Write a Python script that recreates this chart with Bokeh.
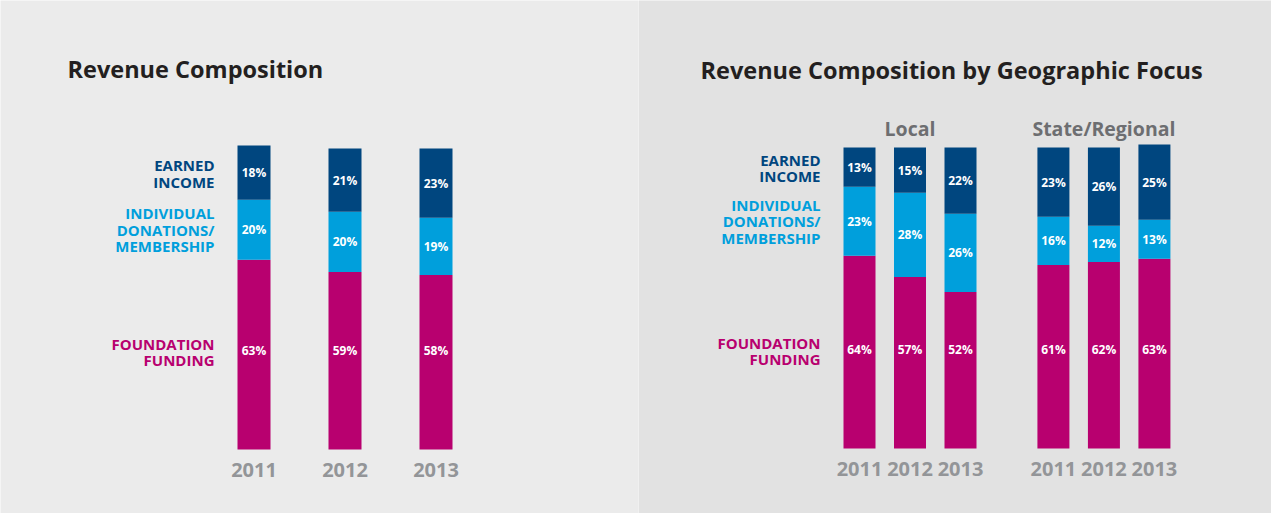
from bokeh.plotting import figure
from bokeh.models import ColumnDataSource, Range1d, Label
from bokeh.layouts import row
from bokeh.core.properties import value
from bokeh.embed import file_html
from bokeh.resources import INLINE

# ---------------- data ----------------
years = ["2011", "2012", "2013"]
series_labels = ["FOUNDATION\nFUNDING", "INDIVIDUAL\nDONATIONS/\nMEMBERSHIP", "EARNED\nINCOME"]

all_foundation = [63, 59, 58]
all_individual = [20, 20, 19]
all_earned = [18, 21, 23]

groups = ["Local", "State/Regional"]
local_foundation = [64, 57, 52]
local_individual = [23, 28, 26]
local_earned = [13, 15, 22]
state_foundation = [61, 62, 63]
state_individual = [16, 12, 13]
state_earned = [23, 26, 25]

left_title = "Revenue Composition"
right_title = "Revenue Composition by Geographic Focus"

# ---------------- style ----------------
FONT = "Open Sans"
C_FOUND = "#b8006f"
C_INDIV = "#009fdc"
C_EARN = "#00467f"
C_TITLE = "#231f20"
C_YEAR = "#939598"
C_GROUP = "#6d6e71"
BG_LEFT = "#ebebeb"
BG_RIGHT = "#e2e2e2"
H = 513
PX_PER_PCT = 3.01
FOUND_LABEL_Y = 33


def make_fig(width, bg, x_start, x_end, bottom_px):
    y0 = -bottom_px / PX_PER_PCT
    p = figure(width=width, height=H, x_range=Range1d(x_start, x_end),
               y_range=Range1d(y0, y0 + H / PX_PER_PCT),
               output_backend="svg", toolbar_location=None, min_border=0)
    p.title.visible = False
    p.xaxis.visible = False
    p.yaxis.visible = False
    p.grid.visible = False
    p.outline_line_color = None
    p.background_fill_color = bg
    p.border_fill_color = bg
    return p


def draw_stack(p, xs, f, i, e, w, row_labels=True):
    src = ColumnDataSource(dict(x=xs, f=f, i=i, e=e))
    p.vbar_stack(["f", "i", "e"], x="x", width=w, source=src,
                 fill_color=[C_FOUND, C_INDIV, C_EARN], line_color=None)
    lx, ly, lt = [], [], []
    for k in range(len(xs)):
        lx += [xs[k]] * 3
        ly += [FOUND_LABEL_Y, f[k] + i[k] / 2, f[k] + i[k] + e[k] / 2]
        lt += [f"{f[k]}%", f"{i[k]}%", f"{e[k]}%"]
    p.text(x=lx, y=ly, text=lt, text_color="white", text_font=value(FONT),
           text_font_style="bold", text_font_size="12px",
           text_align="center", text_baseline="middle")
    p.text(x=xs, y=[0] * len(xs), text=years, y_offset=20,
           text_color=C_YEAR, text_font=value(FONT), text_font_style="bold",
           text_font_size="20px", text_align="center", text_baseline="middle")
    if row_labels:
        p.text(x=[xs[0] - w / 2] * 3,
               y=[FOUND_LABEL_Y, f[0] + i[0] / 2, f[0] + i[0] + e[0] / 2],
               text=series_labels, x_offset=-23, y_offset=[2, 0, 1],
               text_color=[C_FOUND, C_INDIV, C_EARN], text_font=value(FONT),
               text_font_style="bold", text_font_size="15px",
               text_line_height=0.82,
               text_align="right", text_baseline="middle")


# ---------------- left panel ----------------
W1 = 638
p1 = make_fig(W1, BG_LEFT, -253.5 / 91, (W1 - 253.5) / 91, 64)
xs1 = list(range(len(years)))
draw_stack(p1, xs1, all_foundation, all_individual, all_earned, 33 / 91)
p1.add_layout(Label(x=67, y=445, x_units="screen", y_units="screen", text=left_title,
                    text_font=FONT, text_font_style="bold", text_font_size="23.5px",
                    text_color=C_TITLE, text_baseline="alphabetic"))

# ---------------- right panel ----------------
W2 = 633
GROUP_STRIDE = 3.84
p2 = make_fig(W2, BG_RIGHT, -221 / 50.5, (W2 - 221) / 50.5, 65)
w2 = 32 / 50.5
xs_local = [k for k in range(len(years))]
xs_state = [GROUP_STRIDE + k for k in range(len(years))]
draw_stack(p2, xs_local, local_foundation, local_individual, local_earned, w2)
draw_stack(p2, xs_state, state_foundation, state_individual, state_earned, w2, row_labels=False)
p2.text(x=[sum(xs_local) / 3, sum(xs_state) / 3], y=[100, 100], text=groups, y_offset=-19,
        text_color=C_GROUP, text_font=value(FONT), text_font_style="bold",
        text_font_size="19.5px", text_align="center", text_baseline="middle")
p2.add_layout(Label(x=62, y=443.5, x_units="screen", y_units="screen", text=right_title,
                    text_font=FONT, text_font_style="bold", text_font_size="23.5px",
                    text_color=C_TITLE, text_baseline="alphabetic"))

layout = row(p1, p2, spacing=0)
open("out.html", "w").write(file_html(layout, INLINE))
